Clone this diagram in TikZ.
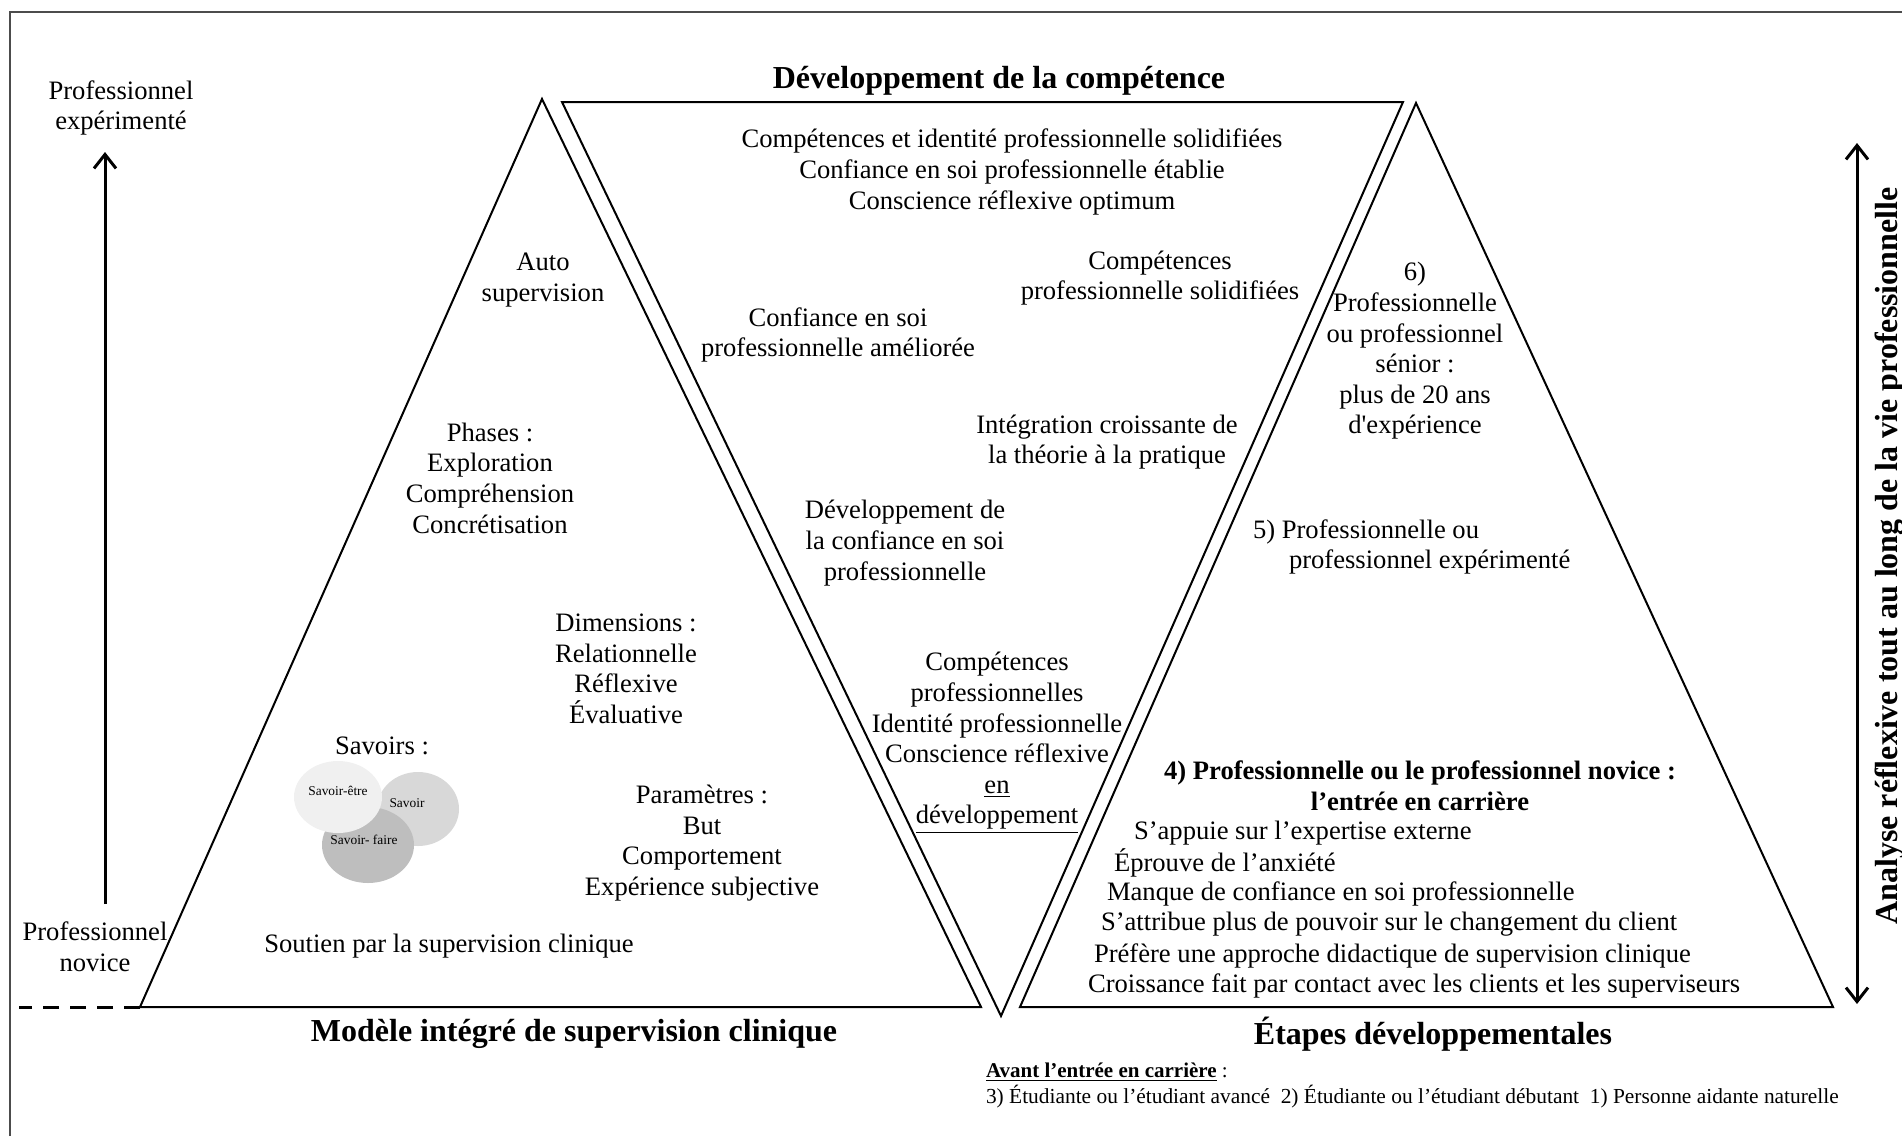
\documentclass[tikz,border=0pt]{standalone}
\usepackage{fontspec}
\setmainfont{Liberation Serif}
\usepackage{tikz}
\usetikzlibrary{arrows.meta}
\usetikzlibrary{positioning}
\definecolor{etre}{RGB}{240,240,240}
\definecolor{savoir}{RGB}{216,216,216}
\definecolor{faire}{RGB}{190,190,190}

\begin{document}
\begin{tikzpicture}[x=0.5pt,y=-0.5pt,
  every node/.style={inner sep=0pt,outer sep=0pt,align=center,font=\fontsize{13.3}{15.3}\selectfont},
  tri/.style={line width=1pt,line join=miter},
  titre/.style={font=\fontsize{16}{19}\selectfont\bfseries},
  petit/.style={font=\fontsize{6.7}{8}\selectfont},
  note/.style={anchor=west,font=\fontsize{10.5}{12}\selectfont},
  pointe/.tip={Straight Barb[length=7pt,width=11pt]},
  axe/.style={line width=1.5pt}]
\useasboundingbox (0,0) rectangle (1902,1136);
\draw[line width=0.75pt,black!70] (10,1136) -- (10,12) -- (1902,12);

% sommets des trois triangles
\coordinate (g-haut) at (542,99);
\coordinate (g-gauche) at (140,1007);
\coordinate (g-droite) at (981,1007);
\coordinate (c-gauche) at (562,102);
\coordinate (c-droite) at (1403,102);
\coordinate (c-bas) at (1001,1016);
\coordinate (d-haut) at (1416,103);
\coordinate (d-gauche) at (1020,1007);
\coordinate (d-droite) at (1833,1007);
\draw[tri] (g-haut) -- (g-droite) -- (g-gauche) -- cycle;
\draw[tri] (c-gauche) -- (c-droite) -- (c-bas) -- cycle;
\draw[tri] (d-haut) -- (d-droite) -- (d-gauche) -- cycle;

% axes
\coordinate (axe-bas) at (105,904);
\coordinate (axe-haut) at (105,152);
\coordinate (tirets) at (19,1007);
\coordinate (vie-haut) at (1857,143);
\coordinate (vie-bas) at (1857,1004);
\draw[axe,-pointe] (axe-bas) -- (axe-haut);
\draw[axe,pointe-pointe] (vie-bas) -- (vie-haut);
\draw[line width=1.5pt,dash pattern=on 8pt off 5.5pt] (g-gauche) -- (tirets);

\node (axe-expert) at (121,108) {Professionnel\\expérimenté};
\node (axe-novice) at (95,947) {Professionnel\\novice};

% titres
\node[titre] (competence) at (999,81) {Développement de la compétence};
\node[titre] (modele) at (574,1034) {Modèle intégré de supervision clinique};
\node[titre] (etapes) at (1433,1034) {Étapes développementales};
\node[titre,rotate=90] (analyse) at (1890,556) {Analyse réflexive tout au long de la vie professionnelle};

% modele integre
\node (auto) at (543,280) {Auto\\supervision};
\node (phases) at (490,478) {Phases :\\Exploration\\Compréhension\\Concrétisation};
\node (dimensions) at (626,669) {Dimensions :\\Relationnelle\\Réflexive\\Évaluative};
\node (savoirs) at (382,746) {Savoirs :};
\fill[savoir] (418,809) ellipse [x radius=41,y radius=37];
\fill[faire] (368,845) ellipse [x radius=46,y radius=38];
\fill[etre] (338,797) ellipse [x radius=44,y radius=36];
\node[petit] (l-etre) at (338,791) {Savoir-être};
\node[petit] (l-savoir) at (407,803) {Savoir};
\node[petit] (l-faire) at (364,840) {Savoir- faire};
\node (parametres) at (702,843) {Paramètres :\\But\\Comportement\\Expérience subjective};
\node (soutien) at (449,946) {Soutien par la supervision clinique};

% developpement de la competence
\node (sommet) at (1012,172) {Compétences et identité professionnelle solidifiées\\Confiance en soi professionnelle établie\\Conscience réflexive optimum};
\node (comp-solide) at (1160,278) {Compétences\\professionnelle solidifiées};
\node (confiance-am) at (838,335) {Confiance en soi\\professionnelle améliorée};
\node (integration) at (1107,442) {Intégration croissante de\\la théorie à la pratique};
\node (dev-confiance) at (905,543) {Développement de\\la confiance en soi\\professionnelle};
\node (comp-dev) at (997,743) {Compétences\\professionnelles\\Identité professionnelle\\Conscience réflexive\\\underline{en}\\\underline{développement}};

% etapes
\node (senior) at (1415,351) {6)\\Professionnelle\\ou professionnel\\sénior :\\plus de 20 ans\\d\textquotesingle expérience};
\node[anchor=west,align=left] (experimente) at (1253,547) {5) Professionnelle ou\\\hspace*{18pt}professionnel expérimenté};
\node[font=\fontsize{13.3}{15.3}\selectfont\bfseries] (etape4) at (1420,786) {4) Professionnelle ou le professionnel novice :\\l’entrée en carrière};
\foreach \x/\y/\t [count=\i] in {1134/833/S’appuie sur l’expertise externe,
  1114/863/Éprouve de l’anxiété,
  1107/894/Manque de confiance en soi professionnelle,
  1101/924/S’attribue plus de pouvoir sur le changement du client,
  1094/956/Préfère une approche didactique de supervision clinique,
  1088/986/Croissance fait par contact avec les clients et les superviseurs}
  \node[anchor=west] (novice\i) at (\x,\y) {\t};

\node[note] (avant) at (986,1072) {\textbf{\underline{Avant l’entrée en carrière}} :};
\node[note,font=\fontsize{10.7}{12}\selectfont] (avant-liste) at (986,1097) {3) Étudiante ou l’étudiant avancé\ \ 2) Étudiante ou l’étudiant débutant\ \ 1) Personne aidante naturelle};
\end{tikzpicture}
\end{document}
